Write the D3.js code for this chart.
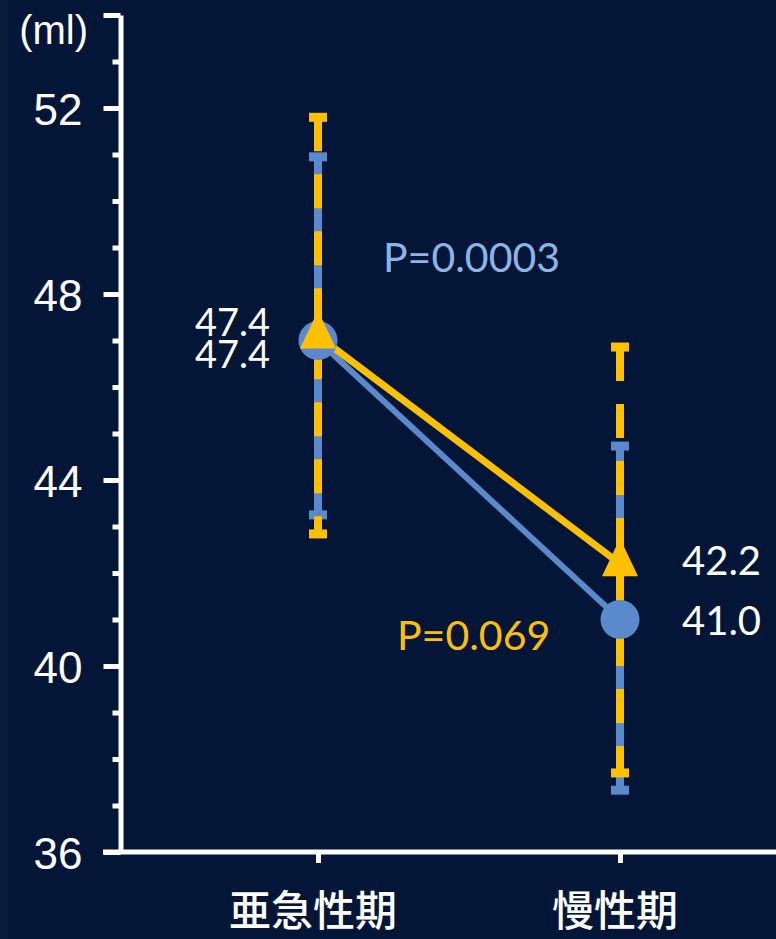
<!DOCTYPE html>
<html>
<head>
<meta charset="utf-8">
<script src="https://cdn.jsdelivr.net/npm/d3@7/dist/d3.min.js"></script>
<style>
  html, body { margin: 0; padding: 0; background: #031638; }
  svg { display: block; }
</style>
</head>
<body>
<svg id="chart" width="776" height="939"></svg>
<script>
// ---- data ----
const categories = ["亜急性期", "慢性期"];
const blueMean = [47.0, 41.0];
const blueHigh = [50.95, 44.73];
const blueLow  = [43.25, 37.33];
const yellowMean = [47.1, 42.2];
const yellowHigh = [51.8, 46.86];
const yellowLow  = [42.84, 37.7];
const yellowLabels = ["47.4", "42.2"];
const blueLabels = ["47.4", "41.0"];
const majorTicks = [36, 40, 44, 48, 52];
const minorTicks = [37, 38, 39, 41, 42, 43, 45, 46, 47, 49, 50, 51, 53];
const unit = "(ml)";
const pBlue = "P=0.0003";
const pYellow = "P=0.069";

// ---- style ----
const BLUE = "#5a89cc";
const YELLOW = "#ffc000";
const PBLUE = "#8db4e3";
const WHITE = "#ffffff";
const numFont = "Lato, 'Open Sans', sans-serif";
const axFont = "'Liberation Sans', Arial, sans-serif";
const cjkFont = "'Noto Sans CJK JP', 'Noto Sans CJK SC', sans-serif";

const svg = d3.select("#chart");
svg.append("rect").attr("width", 776).attr("height", 939).attr("fill", "#031638");
svg.append("rect").attr("width", 8).attr("height", 939).attr("fill", "#0a1c3c");

const y = d3.scaleLinear().domain([36, 54]).range([852, 15]);
const x = d3.scalePoint().domain(categories).range([318, 620]);
const axisX = 120.5;

// y axis: major ticks
const gMaj = svg.append("g").attr("transform", `translate(${axisX},0)`)
  .call(d3.axisLeft(y).tickValues(majorTicks.concat([54])).tickSize(17).tickSizeOuter(0)
    .tickPadding(21).tickFormat(d => d === 54 ? "" : d));
gMaj.select(".domain").attr("stroke", WHITE).attr("stroke-width", 5);
gMaj.selectAll(".tick line").attr("stroke", WHITE).attr("stroke-width", 5);
gMaj.selectAll(".tick text").attr("fill", WHITE).style("font-family", axFont)
  .style("font-size", "44px").attr("dy", "0.38em");

const gMin = svg.append("g").attr("transform", `translate(${axisX},0)`)
  .call(d3.axisLeft(y).tickValues(minorTicks).tickSize(8).tickSizeOuter(0).tickFormat(""));
gMin.select(".domain").remove();
gMin.selectAll(".tick line").attr("stroke", WHITE).attr("stroke-width", 5);

// x axis
const gX = svg.append("g").attr("transform", `translate(0,${y(36)})`)
  .call(d3.axisBottom(x).tickSize(11).tickSizeOuter(0).tickFormat(""));
gX.select(".domain").attr("d", `M103,0H776`).attr("stroke", WHITE).attr("stroke-width", 5);
gX.selectAll(".tick line").attr("stroke", WHITE).attr("stroke-width", 5);

// category labels
svg.append("g").selectAll("text").data(categories).join("text")
  .attr("x", d => x(d) - 5).attr("y", 926)
  .attr("text-anchor", "middle").attr("fill", WHITE)
  .style("font-family", cjkFont).style("font-size", "42px").style("font-weight", 500)
  .text(d => d);

// unit label
svg.append("text").attr("x", 88).attr("y", 44).attr("text-anchor", "end")
  .attr("fill", WHITE).style("font-family", axFont).style("font-size", "40px").text(unit);

// ---- error bars ----
function errorBars(hi, lo, color, dash) {
  const g = svg.append("g");
  g.selectAll("line.v").data(categories).join("line").attr("class", "v")
    .attr("x1", d => x(d)).attr("x2", d => x(d))
    .attr("y1", (d, i) => y(hi[i])).attr("y2", (d, i) => y(lo[i]))
    .attr("stroke", color).attr("stroke-width", 8)
    .attr("stroke-dasharray", dash || null);
  const caps = [];
  categories.forEach((c, i) => { caps.push([c, hi[i]]); caps.push([c, lo[i]]); });
  g.selectAll("line.c").data(caps).join("line").attr("class", "c")
    .attr("x1", d => x(d[0]) - 9).attr("x2", d => x(d[0]) + 9)
    .attr("y1", d => y(d[1])).attr("y2", d => y(d[1]))
    .attr("stroke", color).attr("stroke-width", 9);
}
errorBars(blueHigh, blueLow, BLUE, null);
errorBars(yellowHigh, yellowLow, YELLOW, "34,23");

// ---- lines ----
const line = d3.line().x(d => x(d[0])).y(d => y(d[1]));
svg.append("path").datum(categories.map((c, i) => [c, blueMean[i]]))
  .attr("d", line).attr("fill", "none").attr("stroke", BLUE).attr("stroke-width", 6);
svg.append("path").datum(categories.map((c, i) => [c, yellowMean[i]]))
  .attr("d", line).attr("fill", "none").attr("stroke", YELLOW).attr("stroke-width", 7);

// markers
svg.append("g").selectAll("circle").data(blueMean).join("circle")
  .attr("cx", (d, i) => x(categories[i])).attr("cy", d => y(d)).attr("r", 19.5)
  .attr("fill", BLUE);
const triW = 36, triH = 38;
svg.append("g").selectAll("path").data(yellowMean).join("path")
  .attr("transform", (d, i) => `translate(${x(categories[i])},${y(d)})`)
  .attr("d", `M0,${-triH * 2 / 3}L${triW / 2},${triH / 3}L${-triW / 2},${triH / 3}Z`)
  .attr("fill", YELLOW);

// ---- value labels ----
const lab = svg.append("g").attr("fill", WHITE).style("font-family", numFont);
const stacked = lab.append("text").attr("text-anchor", "end").style("font-size", "38px");
stacked.append("tspan").attr("x", x(categories[0]) - 48).attr("y", 336).text(yellowLabels[0]);
stacked.append("tspan").attr("x", x(categories[0]) - 48).attr("y", 368).text(blueLabels[0]);
lab.append("text").attr("x", x(categories[1]) + 62).attr("y", 575)
  .style("font-size", "40px").text(yellowLabels[1]);
lab.append("text").attr("x", x(categories[1]) + 62).attr("y", 635)
  .style("font-size", "40px").text(blueLabels[1]);

// p-values
svg.append("text").attr("x", 383).attr("y", 272).attr("fill", PBLUE)
  .style("font-family", numFont).style("font-size", "41px").text(pBlue);
svg.append("text").attr("x", 397).attr("y", 650).attr("fill", YELLOW)
  .style("font-family", numFont).style("font-size", "41px").text(pYellow);
</script>
</body>
</html>
